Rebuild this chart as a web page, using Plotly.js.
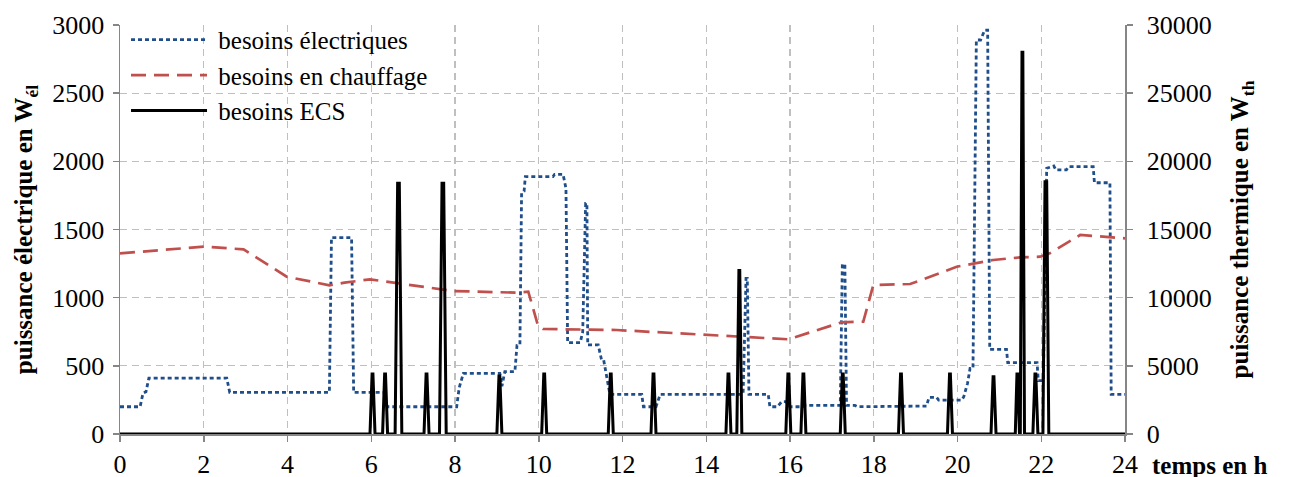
<!DOCTYPE html>
<html>
<head>
<meta charset="utf-8">
<script src="https://cdn.plot.ly/plotly-3.0.1.min.js"></script>
<style>
  html, body { margin: 0; padding: 0; background: #ffffff; }
  #chart { width: 1290px; height: 477px; }
</style>
</head>
<body>
<div id="chart"></div>
<script>
// ---- Data ----
const seriesNames = ["besoins électriques", "besoins en chauffage", "besoins ECS"];

// Electrical demand (W_el, left axis)
const elecTime = [0, 0.48, 0.55, 0.62, 0.69, 2.55, 2.62, 5.0, 5.05, 5.53, 5.58, 6.3, 6.38, 8.04, 8.1, 8.2, 9.07, 9.12, 9.19, 9.43, 9.48, 9.55, 9.59, 9.65, 9.68, 10.34, 10.38, 10.58, 10.65, 10.69, 10.99, 11.05, 11.12, 11.15, 11.17, 11.42, 11.5, 11.55, 11.7, 12.46, 12.5, 12.8, 12.9, 14.88, 14.95, 14.98, 15.02, 15.48, 15.52, 15.7, 15.8, 15.9, 16.0, 16.3, 16.38, 17.2, 17.25, 17.31, 17.35, 17.55, 17.62, 18.7, 19.26, 19.32, 19.5, 19.55, 20.1, 20.15, 20.24, 20.3, 20.37, 20.45, 20.55, 20.65, 20.72, 20.77, 21.17, 21.2, 21.9, 21.93, 22.05, 22.13, 22.3, 22.35, 22.6, 22.65, 23.24, 23.27, 23.64, 23.67, 24];
const elecValue = [200, 200, 300, 310, 410, 410, 305, 305, 1440, 1440, 305, 305, 200, 200, 340, 445, 445, 350, 457, 457, 650, 653, 1766, 1780, 1888, 1888, 1905, 1905, 1802, 670, 670, 750, 1692, 1692, 653, 653, 543, 543, 290, 290, 200, 200, 290, 290, 1142, 1142, 290, 290, 200, 200, 237, 237, 200, 200, 210, 210, 1245, 1245, 210, 210, 200, 200, 205, 269, 269, 249, 249, 274, 372, 482, 482, 2890, 2890, 2963, 2963, 621, 621, 523, 523, 391, 391, 1949, 1966, 1937, 1937, 1961, 1961, 1843, 1843, 291, 291];

// Heating demand (W_th, right axis)
const heatTime = [0, 2.0, 2.95, 3.98, 5.0, 5.36, 5.97, 7.96, 9.47, 9.75, 9.99, 10.1, 11.86, 14.73, 15.96, 17.23, 17.75, 17.99, 18.87, 19.1, 19.98, 20.85, 21.5, 21.97, 22.2, 22.93, 24];
const heatValue = [13250, 13740, 13546, 11540, 10905, 11100, 11345, 10489, 10366, 10440, 7870, 7700, 7628, 7137, 6946, 8193, 8238, 10929, 11000, 11245, 12272, 12763, 12958, 13007, 13250, 14597, 14352];

// Domestic hot water demand (W_th, right axis)
const ecsTime = [0, 5.97, 6.02, 6.04, 6.09, 6.27, 6.32, 6.34, 6.39, 6.57, 6.63, 6.67, 6.73, 7.26, 7.31, 7.33, 7.38, 7.63, 7.69, 7.73, 7.79, 9.0, 9.05, 9.07, 9.12, 10.07, 10.12, 10.14, 10.19, 11.66, 11.71, 11.73, 11.78, 12.68, 12.73, 12.75, 12.8, 14.47, 14.52, 14.54, 14.59, 14.73, 14.78, 14.8, 14.85, 15.9, 15.95, 15.97, 16.02, 16.26, 16.31, 16.33, 16.38, 17.2, 17.25, 17.27, 17.32, 18.59, 18.64, 18.66, 18.71, 19.76, 19.81, 19.83, 19.88, 20.8, 20.85, 20.87, 20.92, 21.38, 21.42, 21.44, 21.48, 21.5, 21.54, 21.56, 21.6, 21.8, 21.85, 21.87, 21.92, 22.04, 22.09, 22.13, 22.18, 24];
const ecsValue = [0, 0, 4400, 4400, 0, 0, 4400, 4400, 0, 0, 18400, 18400, 0, 0, 4400, 4400, 0, 0, 18400, 18400, 0, 0, 4250, 4250, 0, 0, 4400, 4400, 0, 0, 4400, 4400, 0, 0, 4400, 4400, 0, 0, 4400, 4400, 0, 0, 12000, 12000, 0, 0, 4400, 4400, 0, 0, 4400, 4400, 0, 0, 4400, 4400, 0, 0, 4400, 4400, 0, 0, 4400, 4400, 0, 0, 4200, 4200, 0, 0, 4400, 4400, 0, 0, 28000, 28000, 0, 0, 4400, 4400, 0, 0, 18500, 18500, 0, 0];

const xTicks = [0, 2, 4, 6, 8, 10, 12, 14, 16, 18, 20, 22, 24];

// ---- Chart ----
const FONT = '"Liberation Serif", "Times New Roman", "DejaVu Serif", serif';

const traces = [
  {
    x: elecTime, y: elecValue, name: "\u00a0" + seriesNames[0], type: "scatter", mode: "lines",
    yaxis: "y",
    line: { color: "#1F4E8A", width: 2.8, dash: "4px,3px" }
  },
  {
    x: heatTime, y: heatValue, name: "\u00a0" + seriesNames[1], type: "scatter", mode: "lines",
    yaxis: "y2",
    line: { color: "#C0504D", width: 2.7, dash: "15px,8px" }
  },
  {
    x: ecsTime, y: ecsValue, name: "\u00a0" + seriesNames[2], type: "scatter", mode: "lines",
    yaxis: "y2",
    line: { color: "#000000", width: 3 }
  }
];

const layout = {
  width: 1290, height: 477,
  margin: { l: 120, r: 165, t: 25, b: 43, pad: 0 },
  paper_bgcolor: "#ffffff", plot_bgcolor: "#ffffff",
  font: { family: FONT, size: 26, color: "#000000" },
  showlegend: true,
  legend: {
    x: 0.006, y: 1.02, xanchor: "left", yanchor: "top",
    bgcolor: "rgba(0,0,0,0)", borderwidth: 0,
    font: { family: FONT, size: 25, color: "#000000" },
    itemwidth: 76,
    traceorder: "normal"
  },
  xaxis: {
    range: [0, 24], tickmode: "array", tickvals: xTicks, ticktext: xTicks.map(String),
    showgrid: true, gridcolor: "#BFBFBF", gridwidth: 1.3, griddash: "7px,5px",
    showline: true, linecolor: "#868686", linewidth: 1.5,
    ticks: "outside", ticklen: 6, tickcolor: "#868686", tickwidth: 1.5,
    zeroline: false, fixedrange: true,
    tickfont: { family: FONT, size: 26, color: "#000000" }
  },
  yaxis: {
    range: [0, 3000], dtick: 500, tick0: 0, tickformat: "d",
    showgrid: true, gridcolor: "#BFBFBF", gridwidth: 1.3, griddash: "7px,5px",
    showline: true, linecolor: "#868686", linewidth: 1.5,
    ticks: "outside", ticklen: 6, tickcolor: "#868686", tickwidth: 1.5,
    ticklabelstandoff: 3,
    zeroline: false,
    tickfont: { family: FONT, size: 26, color: "#000000" },
    title: { text: "<b>puissance électrique en W<sub>él</sub></b>", standoff: 12,
             font: { family: FONT, size: 25, color: "#000000" } }
  },
  yaxis2: {
    range: [0, 30000], dtick: 5000, tick0: 0, tickformat: "d", overlaying: "y", side: "right",
    showgrid: false, zeroline: false,
    showline: true, linecolor: "#868686", linewidth: 1.5,
    ticks: "outside", ticklen: 6, tickcolor: "#868686", tickwidth: 1.5,
    ticklabelstandoff: 9,
    tickfont: { family: FONT, size: 26, color: "#000000" },
    title: { text: "<b>puissance thermique en W<sub>th</sub></b>", standoff: 20,
             font: { family: FONT, size: 25, color: "#000000" } }
  },
  annotations: [
    {
      text: "<b>temps en h</b>", xref: "paper", yref: "paper",
      x: 1.025, y: -0.078, xanchor: "left", yanchor: "middle", showarrow: false,
      font: { family: FONT, size: 25, color: "#000000" }
    }
  ]
};

Plotly.newPlot("chart", traces, layout, { staticPlot: true, displayModeBar: false });
</script>
</body>
</html>
